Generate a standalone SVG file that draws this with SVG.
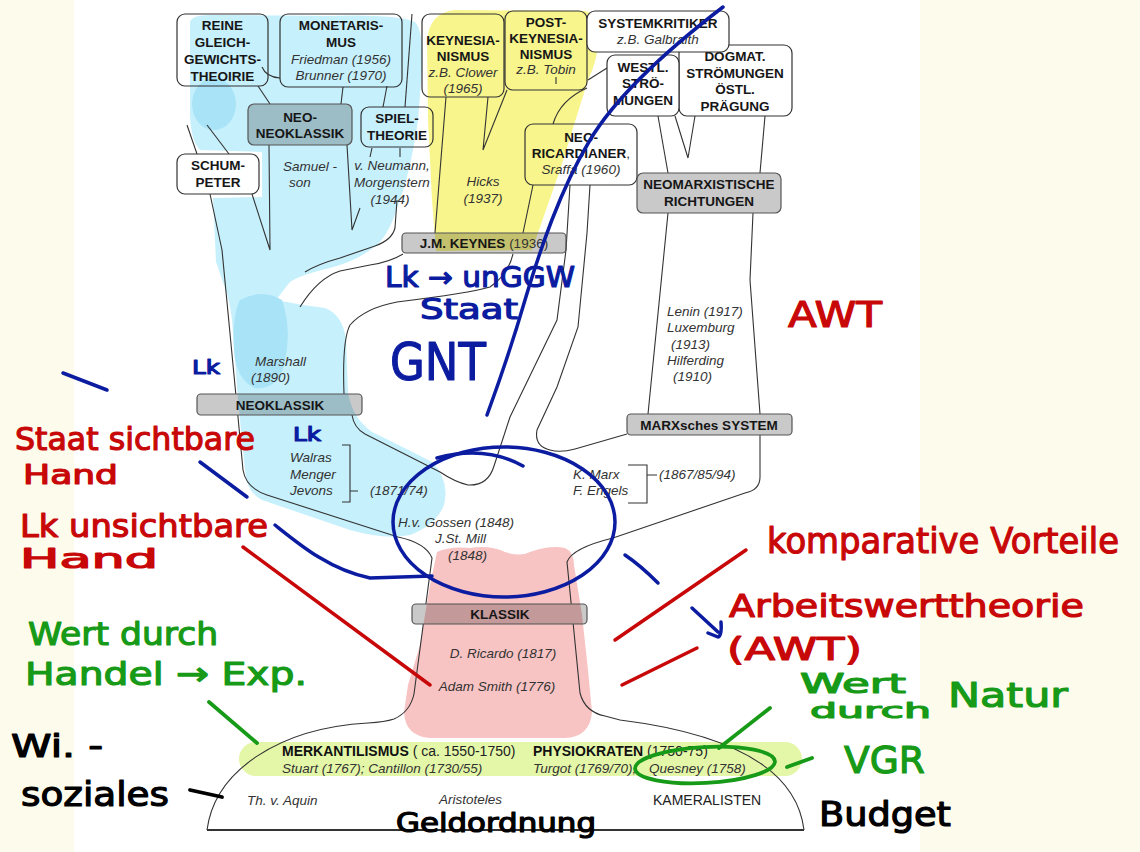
<svg xmlns="http://www.w3.org/2000/svg" width="1140" height="852" viewBox="0 0 1140 852">
<style>
.box{fill:none;stroke:#333;stroke-width:1.2}
.boxw{fill:#fff;stroke:#333;stroke-width:1.2}
.bar{fill:rgba(0,0,0,0.21);stroke:#555;stroke-width:1.2}
.ln{fill:none;stroke:#333;stroke-width:1.1}
.b{font:bold 13.5px "Liberation Sans",Arial,sans-serif;fill:#161616;text-anchor:middle}
.n{font-weight:normal;fill:#333}
.i{font:italic 13.5px "Liberation Sans",Arial,sans-serif;fill:#333}
.c{text-anchor:middle}
.r{font:14px "Liberation Sans",Arial,sans-serif;fill:#222}
.hw{font-family:"DejaVu Sans",sans-serif;font-weight:normal;stroke-width:1.2;stroke-linejoin:round}
.tb{fill:#0b1ca0;stroke:#0b1ca0}.tr{fill:#c80808;stroke:#c80808}.tg{fill:#179a17;stroke:#179a17}.tk{fill:#000;stroke:#000}
.pb{fill:none;stroke:#0b1ca0;stroke-width:3.5;stroke-linecap:round}
.pr{fill:none;stroke:#c80808;stroke-width:3.5;stroke-linecap:round}
.pg{fill:none;stroke:#179a17;stroke-width:3.8;stroke-linecap:round}
.pk{fill:none;stroke:#000;stroke-width:3.8;stroke-linecap:round}
</style>
<rect width="1140" height="852" fill="#fff"/>
<rect x="0" y="0" width="74" height="852" fill="#fdfbeb"/>
<rect x="920" y="0" width="220" height="852" fill="#fdfbeb"/>

<g id="highlights">
<path d="M190,22 Q192,14 215,15 L330,16 Q395,14 415,22 Q424,32 422,70 L418,120 Q410,175 398,205 Q390,232 378,244 Q360,260 330,268 Q300,275 290,282 Q282,292 276,300 Q300,305 325,308 Q343,315 346,340 L348,392 Q352,418 372,432 Q405,448 432,462 Q450,480 444,505 Q436,525 410,535 Q385,540 350,530 L262,500 Q246,492 245,470 L238,400 L232,320 Q230,300 224,285 L216,262 L213,198 L262,197 L262,152 L200,150 Q190,140 190,110 Z" fill="#c6f0fc"/>
<ellipse cx="214" cy="104" rx="22" ry="26" fill="#a9e3f7"/>
<path d="M240,300 Q262,288 282,300 Q292,330 285,360 Q280,390 255,388 Q236,380 234,350 Q232,315 240,300 Z" fill="#a9e3f7"/>
<path d="M427,40 Q430,12 455,10 L585,11 Q600,14 599,35 Q598,60 588,80 L574,125 L560,170 L546,210 L532,250 L436,251 L432,200 L428,120 Z" fill="#f8f58c"/>
<path d="M437,552 Q450,546 470,548 Q490,545 505,552 Q520,557 530,552 Q550,545 565,548 Q574,552 574,565 L582,615 L588,670 L592,712 Q590,737 565,738 L430,738 Q405,736 404,712 L408,685 L420,645 L430,585 Z" fill="#f8c3c3"/>
<rect x="239" y="742" width="563" height="34" rx="17" fill="#e4f7a8"/>
</g>

<g id="connectors" class="ln">
<path d="M187,125 L197,154"/>
<path d="M207,125 L229,154"/>
<path d="M210,194 L222,250 L235.8,394"/>
<path d="M237.8,415 L243,470 Q246,488 267,495 L398,537 Q426,543 432,558 L425.9,604"/>
<path d="M423.3,624 L414,694 Q410,712 394,719 Q385,722 368,723 C280,728 215,770 207,830"/>
<path d="M207,830 H804" stroke-width="2.2"/>
<path d="M760,435 L760,477 Q760,490 745,493 L613,538 Q572,548 567,562 L571.2,604"/>
<path d="M573.2,624 L580,693 Q585,712 605,716 L620,720 C700,730 795,755 804,830"/>
<path d="M252,194 L270,250 L269,145"/>
<path d="M347,145 L352,230 L360,208"/>
<path d="M372,148 L370,157"/>
<path d="M400,148 L400,157"/>
<path d="M397,200 L395,228 Q392,240 375,246 L340,258 Q318,264 305,272"/>
<path d="M412,14 L405,107"/>
<path d="M258,86 L270,104"/>
<path d="M262,67 Q266,77 280,78"/>
<path d="M343,87 L341,104"/>
<path d="M387,86 L383,107"/>
<path d="M446,97 L435,233"/>
<path d="M488,97 L483,150 L507,90"/>
<path d="M556,77 L556,84"/>
<path d="M587,88 Q560,100 553,124"/>
<path d="M588,80 L607,68"/>
<path d="M658,116 L668,173"/>
<path d="M675,116 L688,158 L695,116"/>
<path d="M765,116 L760,173"/>
<path d="M668,213 L648,414"/>
<path d="M753,213 L750,280 L760,414"/>
<path d="M403,254 Q390,262 370,265 L340,271 Q318,278 300,307"/>
<path d="M513,254 Q508,275 490,287 Q470,293 397,302 Q365,308 350,325 Q342,340 344,394"/>
<path d="M352,415 Q354,428 365,434 L440,472 Q455,482 468,485 Q488,486 494,466 L510,417 L557,320 L566,250 L570,185"/>
<path d="M533,185 L523,233"/>
<path d="M590,185 L587,233 L578,327 L557,387 L537,430 Q534,446 550,450 Q560,453 575,449 L627,434"/>
<path d="M342,445 H350 V502 H342 M350,491 H358"/>
<path d="M628,465 H647 V503 H628 M647,475 H657"/>
</g>

<g id="reine"><rect class="box" x="177" y="14" width="91" height="72" rx="8"/>
<text class="b" x="222.5" y="30">REINE</text><text class="b" x="222.5" y="47">GLEICH-</text><text class="b" x="222.5" y="64">GEWICHTS-</text><text class="b" x="222.5" y="81">THEOIRIE</text></g>
<g id="monetarismus"><rect class="box" x="280" y="14" width="122" height="73" rx="8"/>
<text class="b" x="341" y="30">MONETARIS-</text><text class="b" x="341" y="47">MUS</text><text class="i c" x="341" y="64">Friedman (1956)</text><text class="i c" x="341" y="80">Brunner (1970)</text></g>
<g id="keynesianismus"><rect class="box" x="422" y="14" width="82" height="83" rx="8"/>
<text class="b" x="463" y="45">KEYNESIA-</text><text class="b" x="463" y="61">NISMUS</text><text class="i c" x="463" y="77">z.B. Clower</text><text class="i c" x="463" y="93">(1965)</text></g>
<g id="postkeynesianismus"><rect class="box" x="505" y="11" width="82" height="79" rx="8"/>
<text class="b" x="546" y="27">POST-</text><text class="b" x="546" y="43">KEYNESIA-</text><text class="b" x="546" y="59">NISMUS</text><text class="i c" x="546" y="74">z.B. Tobin</text></g>
<g id="dogmat"><rect class="box" x="679" y="45" width="113" height="71" rx="8"/>
<text class="b" x="735" y="61">DOGMAT.</text><text class="b" x="735" y="78">STRÖMUNGEN</text><text class="b" x="735" y="94">ÖSTL.</text><text class="b" x="735" y="111">PRÄGUNG</text></g>
<g id="systemkritiker"><rect class="boxw" x="587" y="11" width="142" height="41" rx="8"/>
<text class="b" x="658" y="28">SYSTEMKRITIKER</text><text class="i c" x="658" y="44">z.B. Galbraith</text></g>
<g id="westl"><rect class="boxw" x="607" y="55" width="72" height="61" rx="8"/>
<text class="b" x="643" y="72">WESTL.</text><text class="b" x="643" y="88">STRÖ-</text><text class="b" x="643" y="105">MUNGEN</text></g>
<g id="neoneoklassik"><rect class="bar" x="248" y="104" width="104" height="41" rx="6"/>
<text class="b" x="300" y="122">NEO-</text><text class="b" x="300" y="138">NEOKLASSIK</text></g>
<g id="spieltheorie"><rect class="box" x="361" y="107" width="72" height="40" rx="8"/>
<text class="b" x="397" y="123">SPIEL-</text><text class="b" x="397" y="140">THEORIE</text></g>
<g id="schumpeter"><rect class="boxw" x="177" y="154" width="82" height="40" rx="8"/>
<text class="b" x="218" y="170">SCHUM-</text><text class="b" x="218" y="187">PETER</text></g>
<g id="neoricardianer"><rect class="box" x="525" y="124" width="112" height="61" rx="8"/>
<text class="b" x="581" y="142">NEO-</text><text class="b" x="581" y="158">RICARDIANER<tspan class="n">,</tspan></text><text class="i c" x="581" y="174">Sraffa (1960)</text></g>
<g id="neomarxistische"><rect class="bar" x="637" y="173" width="144" height="40" rx="6"/>
<text class="b" x="709" y="189">NEOMARXISTISCHE</text><text class="b" x="709" y="206">RICHTUNGEN</text></g>

<g id="keynes"><rect class="bar" x="402" y="233" width="164" height="20" rx="4"/>
<text class="b" x="484" y="248">J.M. KEYNES<tspan class="n"> (1936)</tspan></text></g>
<g id="neoklassik"><rect class="bar" x="197" y="394" width="165" height="21" rx="4"/>
<text class="b" x="280" y="410">NEOKLASSIK</text></g>
<g id="marx"><rect class="bar" x="627" y="414" width="165" height="21" rx="4"/>
<text class="b" x="709" y="430">MARXsches SYSTEM</text></g>
<g id="klassik"><rect class="bar" x="412" y="604" width="175" height="20" rx="4"/>
<text class="b" x="500" y="619">KLASSIK</text></g>

<g id="labels">
<text class="i c" x="310" y="171">Samuel -</text><text class="i c" x="300" y="187">son</text>
<text class="i c" x="392" y="170">v. Neumann,</text><text class="i c" x="392" y="187">Morgenstern</text><text class="i c" x="390" y="204">(1944)</text>
<text class="i c" x="483" y="186">Hicks</text><text class="i c" x="483" y="203">(1937)</text>
<text class="i" x="255" y="366">Marshall</text><text class="i" x="251" y="382">(1890)</text>
<text class="i" x="290" y="462">Walras</text><text class="i" x="290" y="479">Menger</text><text class="i" x="290" y="495">Jevons</text>
<text class="i" x="370" y="495">(1871/74)</text>
<text class="i" x="398" y="527">H.v. Gossen (1848)</text><text class="i" x="435" y="543">J.St. Mill</text><text class="i" x="448" y="560">(1848)</text>
<text class="i" x="573" y="479">K. Marx</text><text class="i" x="573" y="495">F. Engels</text><text class="i" x="659" y="479">(1867/85/94)</text>
<text class="i" x="667" y="316">Lenin (1917)</text><text class="i" x="667" y="332">Luxemburg</text><text class="i" x="671" y="349">(1913)</text><text class="i" x="667" y="365">Hilferding</text><text class="i" x="673" y="381">(1910)</text>
<text class="i c" x="503" y="658">D. Ricardo (1817)</text><text class="i c" x="497" y="691">Adam Smith (1776)</text>
<text class="r" x="282" y="756"><tspan font-weight="bold" fill="#111">MERKANTILISMUS</tspan> ( ca. 1550-1750)</text>
<text class="i" x="282" y="773" font-size="14">Stuart (1767); Cantillon (1730/55)</text>
<text class="r" x="533" y="756"><tspan font-weight="bold" fill="#111">PHYSIOKRATEN</tspan> (1750-75)</text>
<text class="i" x="533" y="773" font-size="14">Turgot (1769/70);</text><text class="i" x="649" y="773" font-size="14">Quesney (1758)</text>
<text class="i" x="247" y="805" font-size="14">Th. v. Aquin</text>
<text class="i" x="439" y="804" font-size="14">Aristoteles</text>
<text class="r" x="653" y="805">KAMERALISTEN</text>
</g>

<g id="annotations">
<path class="pb" d="M723,7 C680,40 620,90 590,140 C560,190 540,250 525,300 C512,345 498,385 487,415"/>
<path class="pb" d="M63,373 L107,390"/>
<path class="pb" d="M200,462 L247,497"/>
<path class="pb" d="M275,525 C300,545 330,570 370,578 L432,576"/>
<ellipse class="pb" cx="504" cy="522" rx="111" ry="75" stroke-width="3"/>
<path class="pb" d="M437,458 Q485,445 523,466"/>
<path class="pb" d="M625,555 Q640,565 658,583"/>
<path class="pb" d="M692,608 L718,632 M721,622 Q722,636 718,637 L708,633"/>
<path class="pr" d="M243,547 L430,685"/>
<path class="pr" d="M615,640 L746,550"/>
<path class="pr" d="M622,685 L697,648"/>
<path class="pg" d="M209,702 L257,743"/>
<path class="pg" d="M770,708 L719,748"/>
<path class="pg" d="M787,767 L812,758"/>
<ellipse class="pg" cx="705" cy="765" rx="70" ry="18" transform="rotate(-3 705 765)"/>
<path class="pk" d="M190,790 L222,797"/>

<text class="hw tb" x="385" y="287" font-size="28" textLength="190" lengthAdjust="spacingAndGlyphs">Lk → unGGW</text>
<text class="hw tb" x="420" y="319" font-size="28" textLength="98" lengthAdjust="spacingAndGlyphs">Staat</text>
<text class="hw tb" x="390" y="380" font-size="52" textLength="96" lengthAdjust="spacingAndGlyphs">GNT</text>
<text class="hw tb" x="192" y="374" font-size="20" textLength="28" lengthAdjust="spacingAndGlyphs">Lk</text>
<text class="hw tb" x="293" y="441" font-size="19" textLength="28" lengthAdjust="spacingAndGlyphs">Lk</text>

<text class="hw tr" x="15" y="450" font-size="32" textLength="240" lengthAdjust="spacingAndGlyphs">Staat sichtbare</text>
<text class="hw tr" x="23" y="484" font-size="26" textLength="95" lengthAdjust="spacingAndGlyphs">Hand</text>
<text class="hw tr" x="20" y="537" font-size="32" textLength="248" lengthAdjust="spacingAndGlyphs">Lk unsichtbare</text>
<text class="hw tr" x="20" y="568" font-size="26" textLength="138" lengthAdjust="spacingAndGlyphs">Hand</text>
<text class="hw tr" x="767" y="553" font-size="36" textLength="352" lengthAdjust="spacingAndGlyphs">komparative Vorteile</text>
<text class="hw tr" x="729" y="617" font-size="32" textLength="355" lengthAdjust="spacingAndGlyphs">Arbeitswerttheorie</text>
<text class="hw tr" x="727" y="660" font-size="32" textLength="135" lengthAdjust="spacingAndGlyphs">(AWT)</text>
<text class="hw tr" x="788" y="327" font-size="36" textLength="94" lengthAdjust="spacingAndGlyphs">AWT</text>

<text class="hw tg" x="28" y="645" font-size="32" textLength="190" lengthAdjust="spacingAndGlyphs">Wert durch</text>
<text class="hw tg" x="25" y="685" font-size="32" textLength="282" lengthAdjust="spacingAndGlyphs">Handel → Exp.</text>
<text class="hw tg" x="800" y="693" font-size="26" textLength="106" lengthAdjust="spacingAndGlyphs">Wert</text>
<text class="hw tg" x="810" y="718" font-size="22" textLength="121" lengthAdjust="spacingAndGlyphs">durch</text>
<text class="hw tg" x="948" y="707" font-size="34" textLength="120" lengthAdjust="spacingAndGlyphs">Natur</text>
<text class="hw tg" x="844" y="773" font-size="38" textLength="81" lengthAdjust="spacingAndGlyphs">VGR</text>

<text class="hw tk" x="11" y="757" font-size="32" textLength="92" lengthAdjust="spacingAndGlyphs">Wi. -</text>
<text class="hw tk" x="21" y="806" font-size="34" textLength="148" lengthAdjust="spacingAndGlyphs">soziales</text>
<text class="hw tk" x="396" y="832" font-size="26" textLength="200" lengthAdjust="spacingAndGlyphs">Geldordnung</text>
<text class="hw tk" x="819" y="826" font-size="34" textLength="132" lengthAdjust="spacingAndGlyphs">Budget</text>
</g>
</svg>
